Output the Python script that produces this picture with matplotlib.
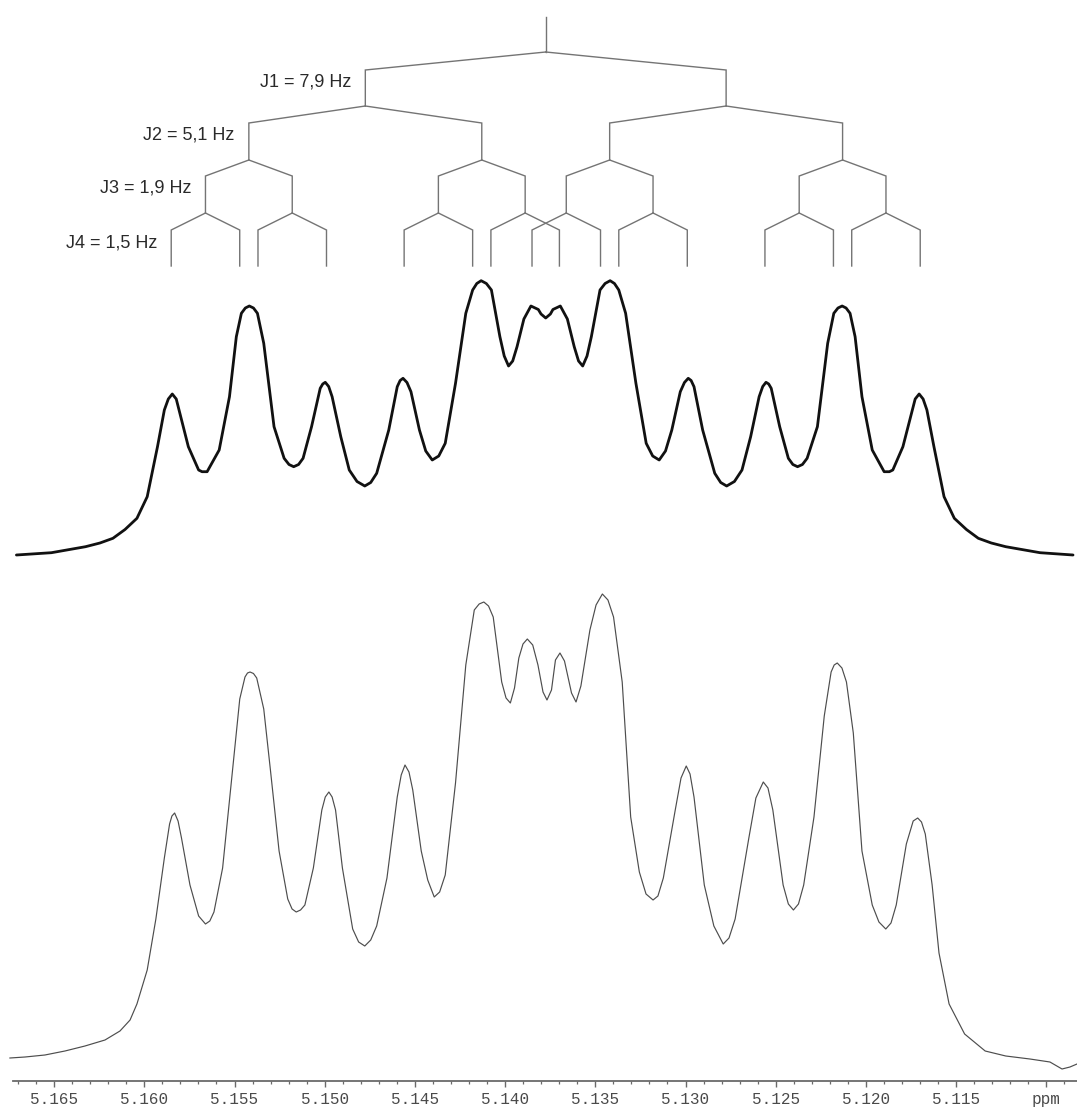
import numpy as np
import matplotlib
matplotlib.use("Agg")
import matplotlib.pyplot as plt
from matplotlib.ticker import FixedLocator, FixedFormatter
import matplotlib.transforms as mtransforms

# ---------------------------------------------------------------------------
# Data: chemical shift (ppm) and intensity (arbitrary units)
# ---------------------------------------------------------------------------
# simulated multiplet (thick trace)
sim_ppm = [5.16709, 5.16515, 5.16326, 5.16246, 5.16174, 5.16107, 5.16041, 5.15984,
           5.15927, 5.15889, 5.15867, 5.15845, 5.15823, 5.15803, 5.15756, 5.15699,
           5.15680, 5.15652, 5.15585, 5.15528, 5.15490, 5.15462, 5.15440, 5.15418,
           5.15395, 5.15373, 5.15338, 5.15281, 5.15225, 5.15198, 5.15172, 5.15145,
           5.15120, 5.15073, 5.15025, 5.15011, 5.14997, 5.14978, 5.14959, 5.14911,
           5.14864, 5.14821, 5.14778, 5.14745, 5.14712, 5.14645, 5.14598, 5.14582,
           5.14566, 5.14544, 5.14522, 5.14475, 5.14440, 5.14404, 5.14368, 5.14332,
           5.14275, 5.14218, 5.14180, 5.14157, 5.14133, 5.14104, 5.14076, 5.14029,
           5.14005, 5.13981, 5.13958, 5.13934, 5.13896, 5.13857, 5.13816, 5.13801,
           5.13775, 5.13749, 5.13735, 5.13694, 5.13655, 5.13617, 5.13593, 5.13570,
           5.13546, 5.13522, 5.13474, 5.13446, 5.13418, 5.13394, 5.13370, 5.13332,
           5.13275, 5.13218, 5.13182, 5.13146, 5.13111, 5.13076, 5.13029, 5.13006,
           5.12985, 5.12969, 5.12953, 5.12905, 5.12838, 5.12805, 5.12772, 5.12729,
           5.12687, 5.12639, 5.12592, 5.12572, 5.12554, 5.12539, 5.12525, 5.12478,
           5.12430, 5.12405, 5.12379, 5.12352, 5.12326, 5.12269, 5.12212, 5.12178,
           5.12155, 5.12132, 5.12110, 5.12088, 5.12060, 5.12022, 5.11965, 5.11899,
           5.11870, 5.11851, 5.11795, 5.11747, 5.11727, 5.11705, 5.11683, 5.11662,
           5.11623, 5.11567, 5.11510, 5.11443, 5.11377, 5.11305, 5.11225, 5.11035,
           5.10852]
sim_int = [0, 2.3, 8.3, 12, 16.7, 25.5, 36.7, 58.3,
           108.3, 145, 156, 161, 156, 141.7, 108.3, 85,
           83.3, 83.3, 105, 158.3, 218.3, 241.7, 247, 249,
           247, 241.7, 211.7, 128.3, 96.7, 90.5, 88.3, 90.5,
           96.7, 128.3, 166.7, 171, 172.7, 168.5, 158.3, 118.3,
           85, 73.5, 69, 72.5, 81.7, 125, 168.3, 174.5,
           176.7, 172.5, 163.3, 125, 104, 95, 99, 111.7,
           171.7, 241.7, 265, 271.5, 274.3, 271.5, 265, 218.3,
           199, 189, 194, 208.3, 236, 249, 245.5, 241,
           237, 241, 245.5, 249, 236, 208.3, 194, 189,
           199, 218.3, 265, 271.5, 274.3, 271.5, 265, 241.7,
           171.7, 111.7, 99, 95, 104, 125, 163.3, 172.5,
           176.7, 174.5, 168.3, 125, 81.7, 72.5, 69, 73.5,
           85, 118.3, 158.3, 168.5, 172.7, 171, 166.7, 128.3,
           96.7, 90.5, 88.3, 90.5, 96.7, 128.3, 211.7, 241.7,
           247, 249, 247, 241.7, 218.3, 158.3, 105, 83.3,
           83.3, 85, 108.3, 141.7, 156, 161, 156, 145,
           108.3, 58.3, 36.7, 25.5, 16.7, 12, 8.3, 2.3,
           0]

# measured multiplet (thin trace)
exp_ppm = [5.16745, 5.16661, 5.16551, 5.16440, 5.16329, 5.16218, 5.16135, 5.16079,
           5.16041, 5.15984, 5.15936, 5.15889, 5.15860, 5.15847, 5.15832, 5.15813,
           5.15794, 5.15747, 5.15699, 5.15661, 5.15637, 5.15614, 5.15566, 5.15509,
           5.15471, 5.15442, 5.15428, 5.15414, 5.15395, 5.15377, 5.15338, 5.15301,
           5.15253, 5.15205, 5.15181, 5.15158, 5.15134, 5.15110, 5.15063, 5.15016,
           5.14997, 5.14977, 5.14959, 5.14940, 5.14902, 5.14845, 5.14812, 5.14778,
           5.14745, 5.14712, 5.14655, 5.14598, 5.14576, 5.14555, 5.14533, 5.14512,
           5.14465, 5.14429, 5.14393, 5.14363, 5.14332, 5.14275, 5.14218, 5.14171,
           5.14144, 5.14118, 5.14092, 5.14066, 5.14019, 5.13995, 5.13971, 5.13948,
           5.13924, 5.13901, 5.13877, 5.13847, 5.13818, 5.13790, 5.13768, 5.13743,
           5.13721, 5.13696, 5.13671, 5.13632, 5.13607, 5.13580, 5.13530, 5.13496,
           5.13461, 5.13430, 5.13399, 5.13351, 5.13304, 5.13256, 5.13219, 5.13180,
           5.13153, 5.13123, 5.13057, 5.13025, 5.12996, 5.12975, 5.12953, 5.12896,
           5.12843, 5.12791, 5.12759, 5.12725, 5.12649, 5.12610, 5.12569, 5.12543,
           5.12516, 5.12459, 5.12430, 5.12402, 5.12374, 5.12345, 5.12288, 5.12231,
           5.12193, 5.12176, 5.12159, 5.12133, 5.12108, 5.12070, 5.12022, 5.11965,
           5.11928, 5.11890, 5.11861, 5.11832, 5.11776, 5.11738, 5.11713, 5.11692,
           5.11671, 5.11633, 5.11595, 5.11539, 5.11453, 5.11339, 5.11225, 5.11091,
           5.10980, 5.10913, 5.10869, 5.10830]
exp_int = [0, 1, 3, 7, 12, 18, 27, 38,
           54, 88, 139, 200, 234, 242, 245, 237,
           220, 173, 142, 134, 137, 146, 190, 292,
           359, 381, 385, 386, 384.5, 380, 349, 288,
           207, 159, 149, 146, 148, 153, 190, 248,
           261, 266, 261, 248, 190, 129, 116, 112,
           118, 132, 180, 261, 283, 293, 286, 268,
           207, 178, 161, 166, 183, 275, 393, 448,
           454, 456, 452, 441, 376, 360, 355, 370,
           400, 414, 419, 413, 393, 366, 358, 368,
           398, 405, 397, 365, 356, 372, 428, 453,
           464, 458, 441, 376, 241, 186, 164, 158,
           162, 180, 248, 280, 292, 284, 261, 173,
           132, 114, 120, 139, 220, 260, 276, 270,
           248, 173, 154, 148, 154, 173, 241, 342,
           386, 393, 395, 390, 376, 325, 207, 153,
           136, 129, 135, 153, 214, 237, 240, 236,
           224, 173, 105, 54, 24, 7, 2, -1,
           -4, -11, -9, -6]

# first-order splitting tree
center_ppm = 5.13775
coupling_names = ["J1", "J2", "J3", "J4"]
coupling_hz = [7.9, 5.1, 1.9, 1.5]
spectrometer_mhz = 395.0

# x-axis ticks
tick_values = [5.165, 5.160, 5.155, 5.150, 5.145, 5.140, 5.135, 5.130,
               5.125, 5.120, 5.115, 5.110]
tick_labels = ["5.165", "5.160", "5.155", "5.150", "5.145", "5.140", "5.135",
               "5.130", "5.125", "5.120", "5.115", "ppm"]
minor_tick_values = [round(5.167 - 0.001 * k, 3) for k in range(59)]

# ---------------------------------------------------------------------------
# Figure layout (pixel based, 100 dpi)
# ---------------------------------------------------------------------------
W, H = 1077, 1114
fig = plt.figure(figsize=(W / 100, H / 100), dpi=100)
fig.patch.set_facecolor("white")

XLIM = (5.1680, 5.1083)


def rect(y_top, y_bot):
    """Axes rectangle spanning the full width between two pixel rows."""
    return [0.0, (H - y_bot) / H, 1.0, (y_bot - y_top) / H]


# measured spectrum with the ppm scale
ax_exp = fig.add_axes(rect(575, 1080.7))
ax_exp.plot(exp_ppm, exp_int, color="#4d4d4d", lw=0.85,
            solid_joinstyle="round", antialiased=True)
ax_exp.set_xlim(*XLIM)
ax_exp.set_ylim(-22.7, 483)
for side in ("left", "right", "top"):
    ax_exp.spines[side].set_visible(False)
ax_exp.spines["bottom"].set_color("#6a6a6a")
ax_exp.spines["bottom"].set_linewidth(1.3)
ax_exp.spines["bottom"].set_bounds(5.16728, XLIM[1])
ax_exp.set_yticks([])
ax_exp.xaxis.set_major_locator(FixedLocator(tick_values))
ax_exp.xaxis.set_major_formatter(FixedFormatter(tick_labels))
ax_exp.xaxis.set_minor_locator(FixedLocator(minor_tick_values))
ax_exp.tick_params(axis="x", which="major", direction="out", length=4.5,
                   width=1.0, color="#6a6a6a", pad=3.5, labelsize=11.5,
                   labelcolor="#4a4a4a")
ax_exp.tick_params(axis="x", which="minor", direction="out", length=2.3,
                   width=0.9, color="#6a6a6a")
for lab in ax_exp.get_xticklabels():
    lab.set_fontfamily("Liberation Mono")
ax_exp.patch.set_alpha(0)

# simulated spectrum
ax_sim = fig.add_axes(rect(265, 575))
ax_sim.plot(sim_ppm, sim_int, color="#111111", lw=2.0, solid_joinstyle="round",
            solid_capstyle="round")
ax_sim.set_xlim(*XLIM)
ax_sim.set_ylim(-20, 290)
ax_sim.axis("off")

# splitting tree
ax_tree = fig.add_axes(rect(0, 275))
ax_tree.set_xlim(*XLIM)
ax_tree.set_ylim(275, 0)
ax_tree.axis("off")

tree_color = "#747474"
tree_lw = 1.0
stem_top, stem_bottom = 17, 52
# (node row, end of slanted branch, end of vertical drop) for each coupling
level_rows = [(52, 70, 106), (106, 123, 160), (160, 176, 213), (213, 230, 266)]
label_rows = [82, 135, 188, 243]

ax_tree.plot([center_ppm, center_ppm], [stem_top, stem_bottom],
             color=tree_color, lw=tree_lw)
nodes = [center_ppm]
label_offset = mtransforms.offset_copy(ax_tree.transData, fig=fig, x=-14, y=0,
                                       units="dots")
for name, j, (y_node, y_branch, y_drop), y_lab in zip(
        coupling_names, coupling_hz, level_rows, label_rows):
    half = 0.5 * j / spectrometer_mhz
    children = []
    for p in nodes:
        for c in (p + half, p - half):
            ax_tree.plot([p, c, c], [y_node, y_branch, y_drop],
                         color=tree_color, lw=tree_lw,
                         solid_joinstyle="miter")
            children.append(c)
    nodes = children
    label = f"{name} = {j:.1f}".replace(".", ",") + " Hz"
    ax_tree.text(max(nodes), y_lab, label, transform=label_offset,
                 ha="right", va="center", fontsize=13,
                 family="Liberation Sans", color="#2a2a2a", clip_on=False)

fig.savefig("out.png", dpi=100, facecolor="white")
